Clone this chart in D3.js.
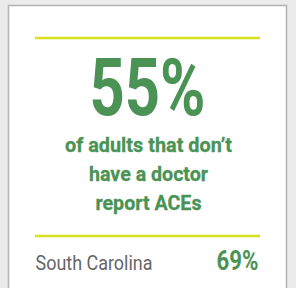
<!DOCTYPE html>
<html>
<head>
<meta charset="utf-8">
<script src="https://cdn.jsdelivr.net/npm/d3@7"></script>
<style>
  body { margin: 0; background: #ebebeb; }
  svg { display: block; }
</style>
</head>
<body>
<div id="container"></div>
<script>
let w = 296;
let h = 288;

// data
let headlineValue = [55];
let descLines = ["of adults that don\u2019t", "have a doctor", "report ACEs"];
let stateNames = ["South Carolina"];
let stateValues = [69];

let green = "#4a9355";
let lime = "#d5e21c";

let viz = d3.select("#container").append("svg")
    .attr("width", w)
    .attr("height", h);

// card
viz.append("rect")
    .attr("x", 8.5).attr("y", 5.5)
    .attr("width", 278).attr("height", 290)
    .attr("fill", "white")
    .attr("stroke", "#b3b3b3")
    .attr("stroke-width", 1.5);

let x = d3.scaleLinear().domain([0, 1]).range([35, 260]);
let cx = (x(0) + x(1)) / 2;

// rules
viz.selectAll(".rule").data([38, 236]).enter()
  .append("line")
    .attr("class", "rule")
    .attr("x1", x(0)).attr("x2", x(1))
    .attr("y1", d => d).attr("y2", d => d)
    .attr("stroke", lime)
    .attr("stroke-width", 2.5);

// big number
viz.selectAll(".big").data(headlineValue).enter()
  .append("text")
    .attr("class", "big")
    .attr("x", cx).attr("y", 115)
    .attr("text-anchor", "middle")
    .attr("font-family", "Roboto")
    .attr("font-weight", "bold")
    .attr("font-size", 80)
    .attr("fill", green)
    .attr("textLength", 116)
    .attr("lengthAdjust", "spacingAndGlyphs")
    .text(d => d + "%");

// description
let descWidths = [167, 119, 106];
viz.selectAll(".desc").data(descLines).enter()
  .append("text")
    .attr("class", "desc")
    .attr("x", cx + 1)
    .attr("y", (d, i) => 152 + i * 29.2)
    .attr("text-anchor", "middle")
    .attr("font-family", "Roboto")
    .attr("font-weight", "bold")
    .attr("font-size", 21)
    .attr("fill", green)
    .attr("stroke", green)
    .attr("stroke-width", 0.3)
    .attr("textLength", (d, i) => descWidths[i])
    .attr("lengthAdjust", "spacingAndGlyphs")
    .text(d => d);

// state comparison
viz.selectAll(".state").data(stateNames).enter()
  .append("text")
    .attr("class", "state")
    .attr("x", 35.5).attr("y", 270)
    .attr("font-family", "Roboto")
    .attr("font-size", 21)
    .attr("fill", "#666666")
    .attr("textLength", 117)
    .attr("lengthAdjust", "spacingAndGlyphs")
    .text(d => d);

viz.selectAll(".stateval").data(stateValues).enter()
  .append("text")
    .attr("class", "stateval")
    .attr("x", 258.5).attr("y", 270)
    .attr("text-anchor", "end")
    .attr("font-family", "Roboto")
    .attr("font-weight", "bold")
    .attr("font-size", 27)
    .attr("fill", green)
    .attr("textLength", 42)
    .attr("lengthAdjust", "spacingAndGlyphs")
    .text(d => d + "%");
</script>
</body>
</html>
